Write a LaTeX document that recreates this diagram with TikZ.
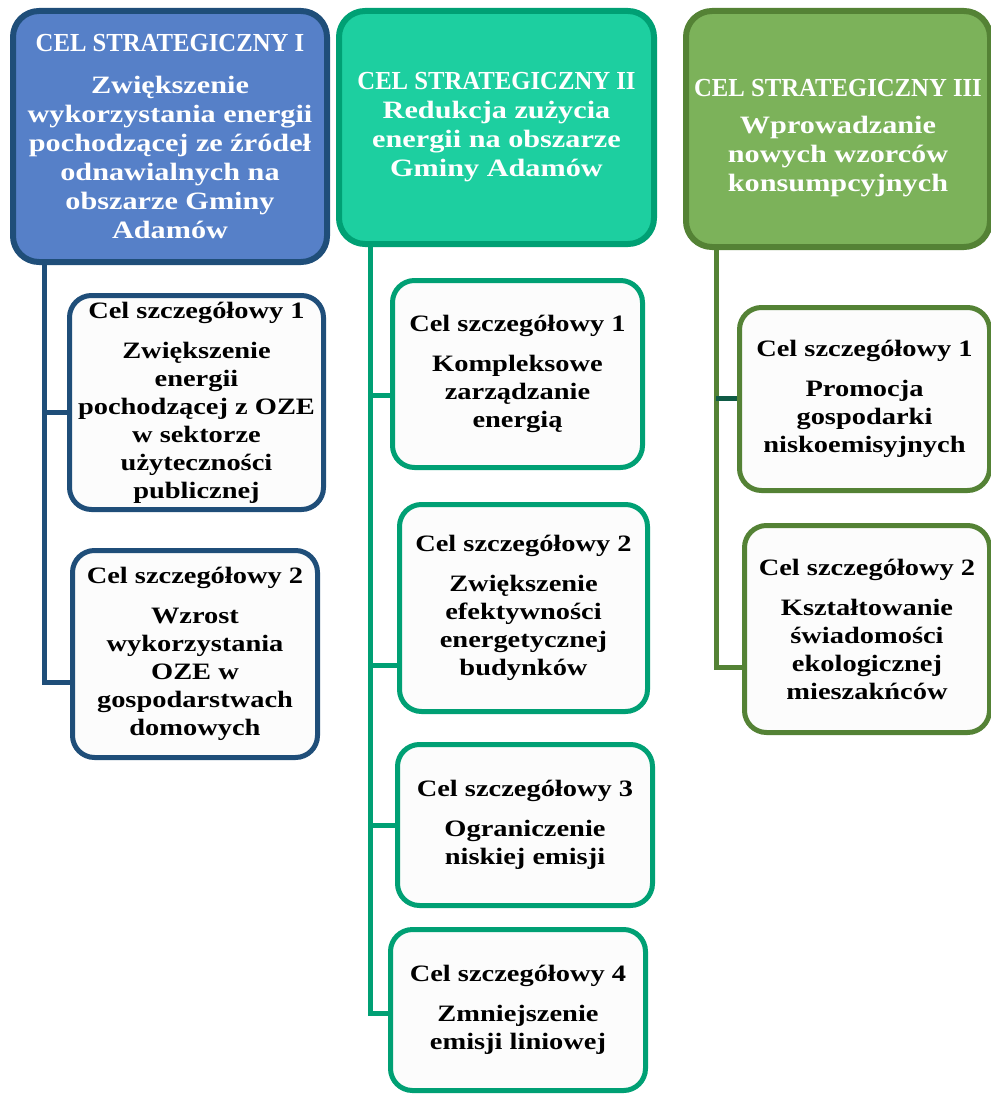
\documentclass[tikz,border=0pt]{standalone}
\usepackage{fontspec}
\setmainfont{Liberation Serif}
\newfontfamily\bodyf{Liberation Serif}[FakeStretch=1.21]
\newfontfamily\headf{Liberation Serif}[FakeStretch=0.95]
\definecolor{blueF}{RGB}{86,128,200}
\definecolor{blueB}{RGB}{31,78,121}
\definecolor{tealF}{RGB}{29,207,160}
\definecolor{tealB}{RGB}{0,160,116}
\definecolor{greenF}{RGB}{124,178,90}
\definecolor{greenB}{RGB}{84,130,53}
\definecolor{darkG}{RGB}{15,91,69}
\definecolor{subF}{RGB}{252,252,252}
\newcommand{\ttl}[1]{{\headf\bfseries\fontsize{26}{29}\selectfont #1}}
\begin{document}
\begin{tikzpicture}[x=1pt,y=-1pt,
  hdr/.style={draw, line width=6pt, rounded corners=26pt, align=center, text=white, inner sep=0pt,
    font=\bodyf\bfseries\fontsize{25}{29}\selectfont},
  sub/.style={draw, line width=5pt, rounded corners=22pt, fill=subF, align=center, text=black, inner sep=0pt,
    font=\bodyf\bfseries\fontsize{23.5}{28}\selectfont},
  conn/.style={line width=5pt}]
\useasboundingbox (0,0) rectangle (990,1097);
% headers
\node[hdr, draw=blueB, fill=blueF, minimum width=314pt, minimum height=251pt] (H1) at (170,136.5)
  {\ttl{CEL STRATEGICZNY I}\\[13pt]Zwiększenie\\wykorzystania energii\\pochodzącej ze źródeł\\odnawialnych na\\obszarze Gminy\\Adamów};
\node[hdr, draw=tealB, fill=tealF, minimum width=315pt, minimum height=233pt] (H2) at (496.5,127.5)
  {\ttl{CEL STRATEGICZNY II}\\Redukcja zużycia\\energii na obszarze\\Gminy Adamów};
\node[hdr, draw=greenB, fill=greenF, minimum width=304pt, minimum height=236pt] (H3) at (838,129)
  {\rule{0pt}{36pt}\ttl{CEL STRATEGICZNY III}\\[8pt]Wprowadzanie\\nowych wzorców\\konsumpcyjnych};
% column I
\node[sub, draw=blueB, minimum width=254pt, minimum height=214pt] (C1a) at (196.5,402.5)
  {Cel szczegółowy 1\\[12pt]Zwiększenie\\energii\\pochodzącej z OZE\\w sektorze\\użyteczności\\publicznej};
\node[sub, draw=blueB, minimum width=245pt, minimum height=207pt] (C1b) at (195,654)
  {Cel szczegółowy 2\\[12pt]Wzrost\\wykorzystania\\OZE w\\gospodarstwach\\domowych};
% column II
\node[sub, draw=tealB, minimum width=250pt, minimum height=187pt] (C2a) at (517.5,374)
  {Cel szczegółowy 1\\[12pt]Kompleksowe\\zarządzanie\\energią};
\node[sub, draw=tealB, minimum width=248pt, minimum height=207pt] (C2b) at (523.5,608)
  {Cel szczegółowy 2\\[12pt]Zwiększenie\\efektywności\\energetycznej\\budynków};
\node[sub, draw=tealB, minimum width=255pt, minimum height=161pt] (C2c) at (525,825)
  {Cel szczegółowy 3\\[12pt]Ograniczenie\\niskiej emisji};
\node[sub, draw=tealB, minimum width=255pt, minimum height=161pt] (C2d) at (518,1010)
  {Cel szczegółowy 4\\[12pt]Zmniejszenie\\emisji liniowej};
% column III
\node[sub, draw=greenB, minimum width=250pt, minimum height=183pt] (C3a) at (864.5,399)
  {Cel szczegółowy 1\\[12pt]Promocja\\gospodarki\\niskoemisyjnych};
\node[sub, draw=greenB, minimum width=245pt, minimum height=207pt] (C3b) at (867,629)
  {Cel szczegółowy 2\\[12pt]Kształtowanie\\świadomości\\ekologicznej\\mieszakńców};
% branch points
\coordinate (b1a) at (44,412);
\coordinate (b1b) at (44,682);
\coordinate (b2a) at (370,395);
\coordinate (b2b) at (370,665);
\coordinate (b2c) at (370,825);
\coordinate (b2d) at (370,1013);
\coordinate (b3a) at (716,398);
\coordinate (b3b) at (716,667);
% connectors
\draw[conn, draw=blueB] (b1a |- H1.south) -- (b1b) -- (b1b -| C1b.west);
\draw[conn, draw=blueB] (b1a) -- (b1a -| C1a.west);
\draw[conn, draw=tealB] (b2a |- H2.south) -- (b2d) -- (b2d -| C2d.west);
\draw[conn, draw=tealB] (b2a) -- (b2a -| C2a.west);
\draw[conn, draw=tealB] (b2b) -- (b2b -| C2b.west);
\draw[conn, draw=tealB] (b2c) -- (b2c -| C2c.west);
\draw[conn, draw=greenB] (b3a |- H3.south) -- (b3b) -- (b3b -| C3b.west);
\draw[conn, draw=darkG] (b3a) -- (b3a -| C3a.west);
\end{tikzpicture}
\end{document}
